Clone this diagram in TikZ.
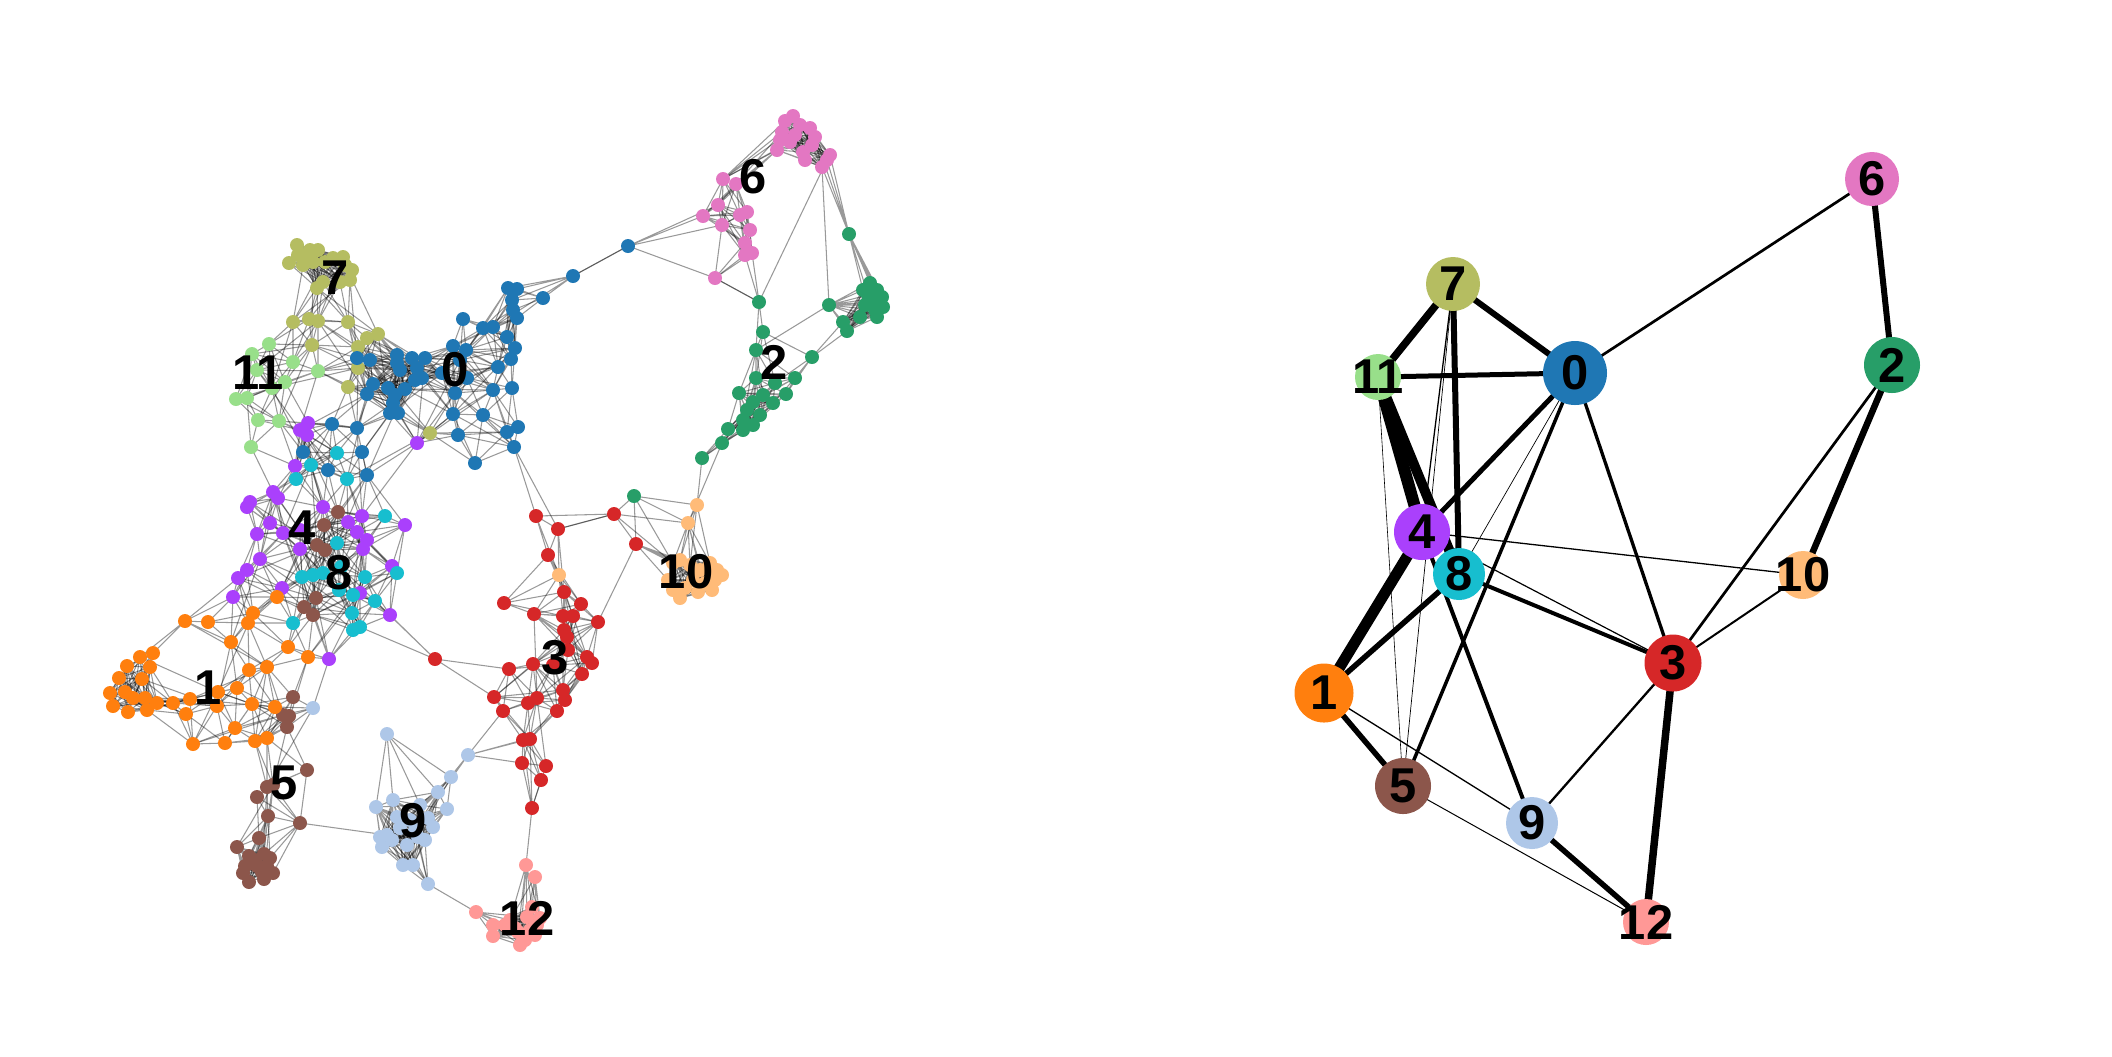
\documentclass[tikz,border=0pt]{standalone}
\usepackage{fontspec}
\newfontfamily\labfont{Liberation Sans}
\definecolor{c0}{HTML}{1F77B4}
\definecolor{c1}{HTML}{FF7F0E}
\definecolor{c2}{HTML}{279E68}
\definecolor{c3}{HTML}{D62728}
\definecolor{c4}{HTML}{AA40FC}
\definecolor{c5}{HTML}{8C564B}
\definecolor{c6}{HTML}{E377C2}
\definecolor{c7}{HTML}{B5BD61}
\definecolor{c8}{HTML}{17BECF}
\definecolor{c9}{HTML}{AEC7E8}
\definecolor{c10}{HTML}{FFBB78}
\definecolor{c11}{HTML}{98DF8A}
\definecolor{c12}{HTML}{FF9896}
\newcount\np \np=0
\newcount\ii \newcount\jj \newcount\dx \newcount\dy \newcount\dd \newcount\thr \newcount\thrB \newcount\tmpc \newcount\mm
\newcount\kA \newcount\kB \newcount\kC \newcount\kD \newcount\kE
\newcount\nA \newcount\nB \newcount\nC \newcount\nD \newcount\nE
\thr=2500
\thrB=9025
\def\maxd{999999999}
\def\addpt#1#2#3{\global\advance\np by 1
 \expandafter\xdef\csname px\the\np\endcsname{#2}%
 \expandafter\xdef\csname py\the\np\endcsname{#3}%
 \expandafter\xdef\csname pc\the\np\endcsname{#1}}
\def\pts#1#2{\foreach \qx/\qy in {#2}{\addpt{#1}{\qx}{\qy}}}
\def\addk#1{\edef\acc{\acc (p\the\ii)--(p\the#1)}}
\def\swapk#1#2#3#4{\tmpc=#1 #1=#2 #2=\tmpc \tmpc=#3 #3=#4 #4=\tmpc}
\def\insertk{%
  \kE=\dd \nE=\jj
   \ifnum\kE<\kD \swapk\kD\kE\nD\nE
    \ifnum\kD<\kC \swapk\kC\kD\nC\nD
     \ifnum\kC<\kB \swapk\kB\kC\nB\nC
      \ifnum\kB<\kA \swapk\kA\kB\nA\nB
      \fi\fi\fi\fi}
\def\chk#1#2{\ifnum#1<\thr\else\ifnum#2>0 \addk#2\fi\fi}
\def\sample{%
  \tmpc=\numexpr\ii*\jj*7+\ii*3+\jj\relax
  \mm=\tmpc \divide\mm by 8 \multiply\mm by 8 \advance\tmpc by -\mm
  \ifnum\tmpc=0 \edef\acc{\acc (p\the\ii)--(p\the\jj)}\fi}
\def\perpoint{%
  \edef\cx{\csname px\the\ii\endcsname}\edef\cy{\csname py\the\ii\endcsname}%
  \def\acc{}%
  \kA=\maxd \kB=\maxd \kC=\maxd \kD=\maxd \kE=\maxd
  \nA=0 \nB=0 \nC=0 \nD=0 \nE=0
  \jj=0
  \loop\ifnum\jj<\np
    \advance\jj by 1
    \ifnum\jj=\ii\else
      \dx=\numexpr\cx-\csname px\the\jj\endcsname\relax
      \dy=\numexpr\cy-\csname py\the\jj\endcsname\relax
      \dd=\numexpr\dx*\dx+\dy*\dy\relax
      \ifnum\jj>\ii
        \ifnum\dd<\thr
          \ifnum\dd>256 \edef\acc{\acc (p\the\ii)--(p\the\jj)}\fi
        \else
          \ifnum\dd<\thrB \sample\fi
        \fi
      \fi
      \ifnum\dd<\kE\insertk\fi
    \fi
  \repeat
  \chk\kA\nA \chk\kB\nB \chk\kC\nC \chk\kD\nD \chk\kE\nE
  \ifx\acc\empty\else\edef\tmp{\noexpand\draw[gedge] \acc;}\tmp\fi}
\def\mkedges{\ii=0
  \loop\ifnum\ii<\np
    \advance\ii by 1
    {\perpoint}%
  \repeat}
\tikzset{
  gedge/.style={draw=black, draw opacity=0.4, line width=0.3pt},
  lab/.style={inner sep=0pt, font=\labfont\bfseries\fontsize{13.9}{14}\selectfont, text=black},
  pnode/.style={circle, inner sep=0pt, draw=none}
}
\begin{document}
\begin{tikzpicture}[x=0.01cm,y=-0.01cm]
\useasboundingbox (0,0) rectangle (2112,1056);
% ---------------- scatter data ----------------
\pts{7}{297/245,305/255,318/250,289/263,303/265,313/262,333/258,343/257,352/270,350/280,340/282,317/288,323/282,293/322,309/319,318/321,348/322,312/345,367/338,378/334,358/347,358/368,348/387,430/433,310/250,325/262,298/255,345/265}
\pts{11}{269/344,252/354,293/362,318/371,285/382,272/388,236/399,247/398,258/420,279/421,251/447,257/370}
\pts{0}{463/319,453/346,466/350,397/355,412/358,425/358,357/358,370/360,397/363,417/368,422/378,442/373,467/378,455/393,373/384,367/394,388/388,405/389,393/403,390/413,398/413,453/414,458/435,475/463,332/424,357/428,303/452,362/452,328/470,367/475,628/246,573/276,543/298,508/288,517/289,512/300,513/310,517/318,483/328,493/327,507/337,515/348,511/359,498/367,512/388,493/390,483/415,507/432,518/427,514/447,400/370,415/380,395/395,460/360}
\pts{4}{308/423,300/430,307/435,417/443,295/466,273/492,278/498,250/502,247/507,323/507,270/523,283/533,257/534,300/530,348/522,362/516,357/532,367/540,363/549,405/525,300/549,260/559,247/570,238/578,392/566,282/588,233/597,360/593,390/615,329/659}
\pts{8}{337/453,311/465,296/479,347/479,385/516,337/543,341/567,302/577,313/575,323/573,365/577,397/573,339/590,353/595,375/601,352/613,293/623,360/627,353/630}
\pts{5}{338/512,324/525,317/545,325/550,316/598,304/607,313/615,293/697,283/715,289/716,287/727,307/770,267/787,257/797,273/785,268/816,300/823,259/838,237/847,249/856,264/854,243/873,257/866,267/866,273/873,249/882,264/879,255/860,262/872,270/858,245/866}
\pts{1}{277/597,253/613,248/623,185/621,208/622,231/642,288/647,308/657,153/653,140/657,150/667,127/666,119/678,142/679,249/670,267/667,237/688,218/692,110/693,125/692,133/698,145/698,157/703,113/706,128/712,147/710,173/703,190/699,186/714,217/706,252/704,275/707,235/728,193/744,225/743,255/741,267/738}
\pts{9}{313/708,387/734,468/755,451/777,438/792,393/800,376/807,447/809,397/817,428/818,433/827,380/837,387/835,407/845,418/837,382/847,403/865,413/865,428/884,410/820,420/805,400/828,415/830,392/840,425/840}
\pts{3}{536/516,558/529,614/514,636/544,548/555,564/592,504/603,534/614,581/604,563/616,573/616,598/622,564/630,567/637,568/650,587/657,592/663,582/674,509/669,533/664,553/665,563/690,565/700,537/698,528/703,494/697,503/711,557/711,523/740,530/739,522/763,546/766,541/780,532/808,435/659}
\pts{12}{526/865,535/877,476/912,493/925,493/936,510/920,527/917,537/925,518/932,525/940,535/935,532/907,515/928,530/930,505/925,540/918,520/945}
\pts{10}{697/505,688/523,559/575,673/563,680/560,710/563,717/570,715/580,712/590,673/590,680/598,668/580,693/580,705/583,690/565,700/570,685/588,698/592,722/575}
\pts{6}{793/116,785/121,810/128,782/132,815/137,790/142,777/150,803/152,827/160,822/167,723/179,736/184,718/205,747/212,703/216,722/225,740/215,750/230,745/243,752/253,745/255,715/278,800/125,795/135,812/145,780/140,805/160,830/155}
\pts{2}{849/234,759/302,829/305,870/283,877/290,863/290,882/297,872/302,883/307,877/317,860/317,843/322,847/331,763/332,756/350,812/357,756/378,795/378,775/383,786/394,773/403,739/393,763/395,753/402,747/410,760/415,743/420,753/425,743/430,728/429,722/443,702/458,634/496,868/295,875/310,865/305,880/300}
\edef\N{\the\np}
\foreach \i in {1,...,\N}{\coordinate (p\i) at (\csname px\i\endcsname,\csname py\i\endcsname);}
% gray neighbour-graph edges
\mkedges
% links of the upper group of cluster 6 to the rest
\draw[gedge] (p311)--(p318) (p314)--(p319) (p313)--(p318) (p309)--(p318) (p314)--(p320) (p311)--(p319) (p314)--(p322)
  (p316)--(p336) (p317)--(p336) (p312)--(p336) (p335)--(p336) (p317)--(p338) (p316)--(p337);
% dots
\foreach \i in {1,...,\N}{\edef\tmp{\noexpand\fill[fill=c\csname pc\i\endcsname] (p\i) circle (0.07cm);}\tmp}
% left labels
\node[lab] (l0) at (455,370) {0};
\node[lab] (l1) at (208,688) {1};
\node[lab] (l2) at (774,362) {2};
\node[lab] (l3) at (555,658) {3};
\node[lab] (l4) at (302,528) {4};
\node[lab] (l5) at (284,783) {5};
\node[lab] (l6) at (753,177) {6};
\node[lab] (l7) at (335,278) {7};
\node[lab] (l8) at (339,573) {8};
\node[lab] (l9) at (413,821) {9};
\node[lab] (l10) at (686,572) {10};
\node[lab] (l11) at (258,373) {11};
\node[lab] (l12) at (527,918) {12};
% ---------------- PAGA graph ----------------
\foreach \k/\px/\py in {0/1575/373,1/1324/693,2/1892/365,3/1673/663,4/1422/532,5/1403/786,6/1872/179,7/1453/284,8/1459/574,9/1532/823,10/1803/575,11/1378/377,12/1646/922}{
  \coordinate (k\k) at (\px,\py);
}
\foreach \u/\v/\w in {11/4/12,11/8/10,4/1/11,7/11/7.5,7/0/6,7/8/6,11/0/5,0/4/5,8/1/5.5,1/5/5.5,3/12/7.5,6/2/6,2/10/6.5,9/12/5.5,8/3/4,4/9/4,0/5/3.5,0/3/3.3,0/6/2.7,2/3/2.7,3/9/2.3,3/10/2,4/3/1.2,4/10/1.3,1/9/1.3,5/12/1,0/8/0.7,7/4/1.3,7/5/0.7,11/5/0.6}{
  \draw[black, line width=\w*0.01cm] (k\u) -- (k\v);
}
\foreach \k/\r in {0/32,1/29.5,2/28,3/28.5,4/28,5/28,6/27,7/27,8/26,9/26,10/24,11/23,12/23}{
  \node[pnode, fill=c\k, minimum size=2*\r*0.01cm] (n\k) at (k\k) {};
  \node[lab] (t\k) at (n\k.center) {\k};
}
\end{tikzpicture}
\end{document}
